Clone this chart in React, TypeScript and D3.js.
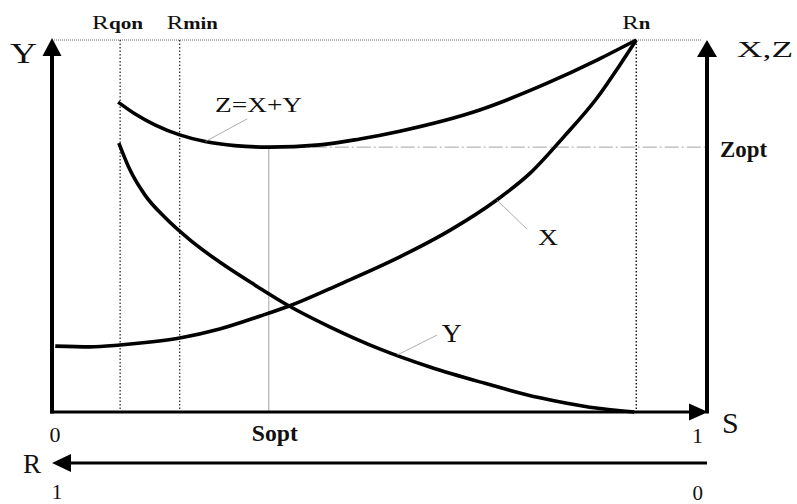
import * as d3 from 'd3'

// curves: [S, value], both axes run 0..1
const xCurve: [number, number][] = [
  [0.005, 0.177], [0.058, 0.175], [0.104, 0.18], [0.15, 0.188], [0.195, 0.199],
  [0.256, 0.223], [0.318, 0.258], [0.362, 0.285], [0.44, 0.344], [0.531, 0.417],
  [0.608, 0.489], [0.679, 0.57], [0.73, 0.642], [0.78, 0.737], [0.832, 0.844],
  [0.867, 0.933], [0.892, 1.0],
]
const yCurve: [number, number][] = [
  [0.102, 0.723], [0.119, 0.651], [0.142, 0.583], [0.173, 0.522], [0.211, 0.462],
  [0.256, 0.403], [0.31, 0.341], [0.362, 0.285], [0.424, 0.229], [0.501, 0.169],
  [0.577, 0.121], [0.653, 0.081], [0.745, 0.038], [0.821, 0.013], [0.889, 0.0],
]
const zCurve: [number, number][] = [
  [0.101, 0.833], [0.127, 0.801], [0.157, 0.772], [0.195, 0.745], [0.234, 0.727],
  [0.279, 0.716], [0.331, 0.712], [0.409, 0.718], [0.47, 0.734], [0.531, 0.755],
  [0.653, 0.812], [0.756, 0.884], [0.832, 0.946], [0.892, 1.0],
]

// vertical markers (R values along S)
const markerSub = ['qon', 'min', 'n']
const markerS = [0.104, 0.195, 0.892]
const sOpt = 0.331
const zOpt = 0.712

// curve name labels: [text, label S, label value, leader from S, from value, to S, to value]
const curveLabels: [string, number, number, number, number, number, number][] = [
  ['Z=X+Y', 0.249, 0.806, 0.234, 0.727, 0.298, 0.788],
  ['X', 0.742, 0.449, 0.679, 0.57, 0.725, 0.492],
  ['Y', 0.595, 0.188, 0.527, 0.153, 0.588, 0.207],
]

const W = 797
const H = 504
const left = 52
const right = 707
const top = 40
const bottom = 412
const rAxisY = 463
const serif = '"Liberation Serif", "DejaVu Serif", serif'

export default function App() {
  const sx = d3.scaleLinear().domain([0, 1]).range([left, right])
  const vy = d3.scaleLinear().domain([0, 1]).range([bottom, top])
  const rx = d3.scaleLinear().domain([1, 0]).range([left, right])

  const line = d3
    .line<[number, number]>()
    .x((d) => sx(d[0]))
    .y((d) => vy(d[1]))
    .curve(d3.curveMonotoneX)

  const markerOffset = [-2.5, 12.5, 0]
  const markerWidth = [51, 51, 28]
  const labelSize = [22, 24, 25]
  const labelWidth = [87, 20, 20]

  return (
    <svg
      width={W}
      height={H}
      style={{ position: 'absolute', left: 0, top: 0, background: '#fff', fontFamily: serif }}
    >
      {/* top dotted line */}
      <line x1={left} x2={right - 6} y1={top} y2={top} stroke="#666" strokeWidth={1} strokeDasharray="1,1" />

      {/* R markers */}
      {markerS.map((s, i) => (
        <g key={markerSub[i]}>
          <line
            x1={sx(s)}
            x2={sx(s)}
            y1={top}
            y2={bottom}
            stroke="#111"
            strokeWidth={i === 2 ? 1.4 : 1.1}
            strokeDasharray="1.5,2"
          />
          <text
            x={sx(s) + markerOffset[i]}
            y={29}
            textAnchor="middle"
            textLength={markerWidth[i]}
            lengthAdjust="spacingAndGlyphs"
            fill="#111"
          >
            <tspan fontSize={19}>R</tspan>
            <tspan fontSize={16} fontWeight="bold">{markerSub[i]}</tspan>
          </text>
        </g>
      ))}

      {/* optimum guides */}
      <line x1={sx(sOpt)} x2={sx(sOpt)} y1={vy(zOpt)} y2={bottom} stroke="#999" strokeWidth={0.9} />
      <line
        x1={sx(sOpt)}
        x2={right}
        y1={vy(zOpt)}
        y2={vy(zOpt)}
        stroke="#999"
        strokeWidth={0.9}
        strokeDasharray="14,3,2,3"
      />

      {/* curves */}
      {[xCurve, yCurve, zCurve].map((c, i) => (
        <path key={i} d={line(c) ?? ''} fill="none" stroke="#000" strokeWidth={3.6} strokeLinecap="butt" />
      ))}

      {/* curve labels with leaders */}
      {curveLabels.map(([t, ls, lv, fs, fv, ts, tv], i) => (
        <g key={t}>
          <line x1={sx(fs)} y1={vy(fv)} x2={sx(ts)} y2={vy(tv)} stroke="#999" strokeWidth={0.8} />
          <text
            x={sx(ls)}
            y={vy(lv)}
            fontSize={labelSize[i]}
            textLength={labelWidth[i]}
            lengthAdjust="spacingAndGlyphs"
            fill="#111"
          >
            {t}
          </text>
        </g>
      ))}

      {/* left Y axis */}
      <line x1={left} x2={left} y1={bottom + 1.5} y2={top + 12} stroke="#000" strokeWidth={4} />
      <path d={`M${left},${top - 2}L${left - 9.5},${top + 16}L${left + 9.5},${top + 16}Z`} fill="#000" />
      <text x={10} y={63} fontSize={30} textLength={27} lengthAdjust="spacingAndGlyphs" fill="#111">
        Y
      </text>

      {/* right X,Z axis */}
      <line x1={right} x2={right} y1={bottom + 1.5} y2={top + 12} stroke="#000" strokeWidth={4} />
      <path d={`M${right},${top}L${right - 10},${top + 17}L${right + 10},${top + 17}Z`} fill="#000" />
      <text x={737} y={57} fontSize={23} textLength={56} lengthAdjust="spacingAndGlyphs" fill="#111">
        X,Z
      </text>
      <text
        x={right + 13}
        y={vy(zOpt) + 10}
        fontSize={23}
        fontWeight="bold"
        textLength={47}
        lengthAdjust="spacingAndGlyphs"
        fill="#111"
      >
        Zopt
      </text>

      {/* S axis */}
      <line x1={left - 2} x2={right - 15} y1={bottom} y2={bottom} stroke="#000" strokeWidth={3} />
      <path d={`M${right + 1},${bottom}L${right - 18},${bottom - 8.5}L${right - 18},${bottom + 8.5}Z`} fill="#000" />
      <text x={sx(0) + 3} y={442} fontSize={22} textAnchor="middle" fill="#111">
        0
      </text>
      <text x={sx(1) - 4} y={443} fontSize={22} textAnchor="end" fill="#111">
        1
      </text>
      <text x={722} y={433} fontSize={30} fill="#111">
        S
      </text>
      <text
        x={sx(sOpt) - 17}
        y={441}
        fontSize={23}
        fontWeight="bold"
        textLength={46}
        lengthAdjust="spacingAndGlyphs"
        fill="#111"
      >
        Sopt
      </text>

      {/* R axis, running the other way */}
      <line x1={rx(1) + 15} x2={rx(0)} y1={rAxisY} y2={rAxisY} stroke="#000" strokeWidth={3} />
      <path d={`M${rx(1)},${rAxisY}L${rx(1) + 19},${rAxisY - 9}L${rx(1) + 19},${rAxisY + 9}Z`} fill="#000" />
      <text x={23} y={473} fontSize={27} fill="#111">
        R
      </text>
      <text x={rx(1) + 5} y={499} fontSize={21} textAnchor="middle" fill="#111">
        1
      </text>
      <text x={rx(0) - 4} y={500} fontSize={21} textAnchor="end" fill="#111">
        0
      </text>
    </svg>
  )
}
